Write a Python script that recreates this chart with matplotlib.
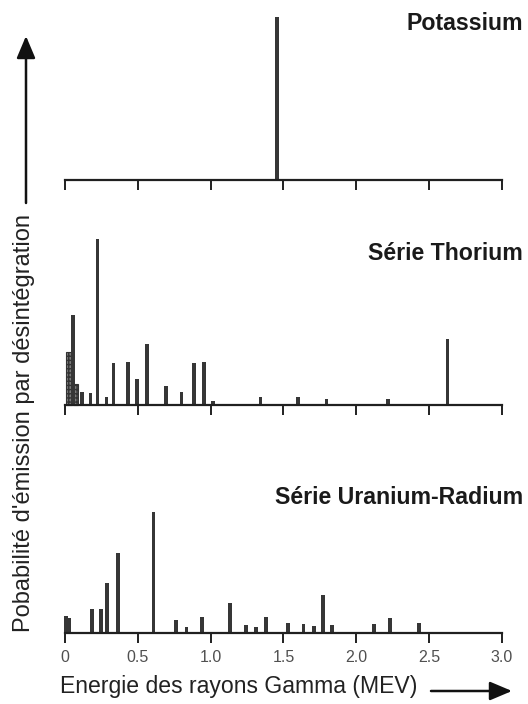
import matplotlib
matplotlib.use("Agg")
import matplotlib.pyplot as plt
from matplotlib.patches import FancyArrowPatch

plt.rcParams["font.family"] = ["Liberation Sans", "DejaVu Sans"]

# Gamma-ray lines: energy (MeV) and relative emission intensity (arbitrary units)
potassium_energy = [1.455]
potassium_intensity = [163]

thorium_energy = [0.057, 0.115, 0.176, 0.224, 0.286, 0.332, 0.434, 0.494, 0.561,
                  0.693, 0.801, 0.885, 0.954, 1.014, 1.342, 1.599, 1.796, 2.219, 2.627]
thorium_intensity = [90, 13, 12, 166, 8, 42, 43, 26, 61,
                     19, 13, 42, 43, 4, 8, 8, 6, 6, 66]
# X-ray clusters at low energy (drawn as hatched blocks): start, end, intensity
thorium_xray_start = [0.010, 0.057]
thorium_xray_end = [0.050, 0.087]
thorium_xray_intensity = [53, 21]

uranium_energy = [0.005, 0.032, 0.185, 0.249, 0.287, 0.363, 0.608, 0.762, 0.835,
                  0.939, 1.131, 1.241, 1.312, 1.379, 1.530, 1.638, 1.709, 1.771,
                  1.835, 2.121, 2.229, 2.430]
uranium_intensity = [17, 15, 24, 24, 50, 80, 121, 13, 6,
                     16.5, 30, 8.5, 6.5, 16.5, 10, 8.7, 7.4, 38,
                     7.7, 9.4, 15, 10]

tick_values = [0, 0.5, 1.0, 1.5, 2.0, 2.5, 3.0]
tick_labels = ["0", "0.5", "1.0", "1.5", "2.0", "2.5", "3.0"]

titles = ["Potassium", "Série Thorium", "Série Uranium-Radium"]

W, H = 528, 704
fig = plt.figure(figsize=(W / 100, H / 100), dpi=100)

bar_color = "#363636"
bar_width = 0.025
left = 65 / W
width = (502 - 65) / W
panel_h = 170
baselines = [180, 405, 633]
title_y = [24, 254, 498]


def make_axes(baseline):
    ax = fig.add_axes([left, (H - baseline) / H, width, panel_h / H])
    ax.set_xlim(0, 3.0)
    ax.set_ylim(0, panel_h)
    for s in ("left", "top", "right"):
        ax.spines[s].set_visible(False)
    ax.spines["bottom"].set_linewidth(1.6)
    ax.spines["bottom"].set_color("#202020")
    ax.set_yticks([])
    ax.set_xticks(tick_values)
    ax.tick_params(axis="x", direction="out", length=7.5, width=1.4,
                   color="#202020", pad=5, labelsize=11.5, labelcolor="#505050")
    ax.patch.set_visible(False)
    return ax


ax_k = make_axes(baselines[0])
ax_k.bar(potassium_energy, potassium_intensity, width=bar_width, color=bar_color)
ax_k.set_xticklabels([])

ax_th = make_axes(baselines[1])
for s, e, v in zip(thorium_xray_start, thorium_xray_end, thorium_xray_intensity):
    ax_th.bar((s + e) / 2, v, width=e - s, facecolor="#7a7a7a",
              edgecolor="#333333", hatch="++++", linewidth=0.8, clip_on=False)
ax_th.bar(thorium_energy, thorium_intensity, width=bar_width, color=bar_color)
ax_th.set_xticklabels([])

ax_u = make_axes(baselines[2])
ax_u.bar(uranium_energy, uranium_intensity, width=bar_width, color=bar_color, clip_on=False)
ax_u.set_xticklabels(tick_labels)

for t, y in zip(titles, title_y):
    fig.text(523 / W, 1 - y / H, t, ha="right", va="center",
             fontsize=16.7, fontweight="bold", color="#1a1a1a")

# Axis captions with arrows
fig.text(24 / W, 1 - 423 / H, "Pobabilité d'émission par désintégration",
         rotation=90, ha="center", va="center", fontsize=17, color="#222222")
fig.text(60 / W, 1 - 686 / H, "Energie des rayons Gamma (MEV)",
         ha="left", va="center", fontsize=16.6, color="#222222")

arrow_kw = dict(arrowstyle="-|>,head_length=0.9,head_width=0.38",
                color="#111111", linewidth=1.8, mutation_scale=15,
                transform=fig.transFigure, shrinkA=0, shrinkB=0)
fig.patches.append(FancyArrowPatch((26 / W, 1 - 203 / H), (26 / W, 1 - 36 / H), **arrow_kw))
fig.patches.append(FancyArrowPatch((431 / W, 1 - 691 / H), (512 / W, 1 - 691 / H), **arrow_kw))

fig.savefig("out.png", dpi=100)
